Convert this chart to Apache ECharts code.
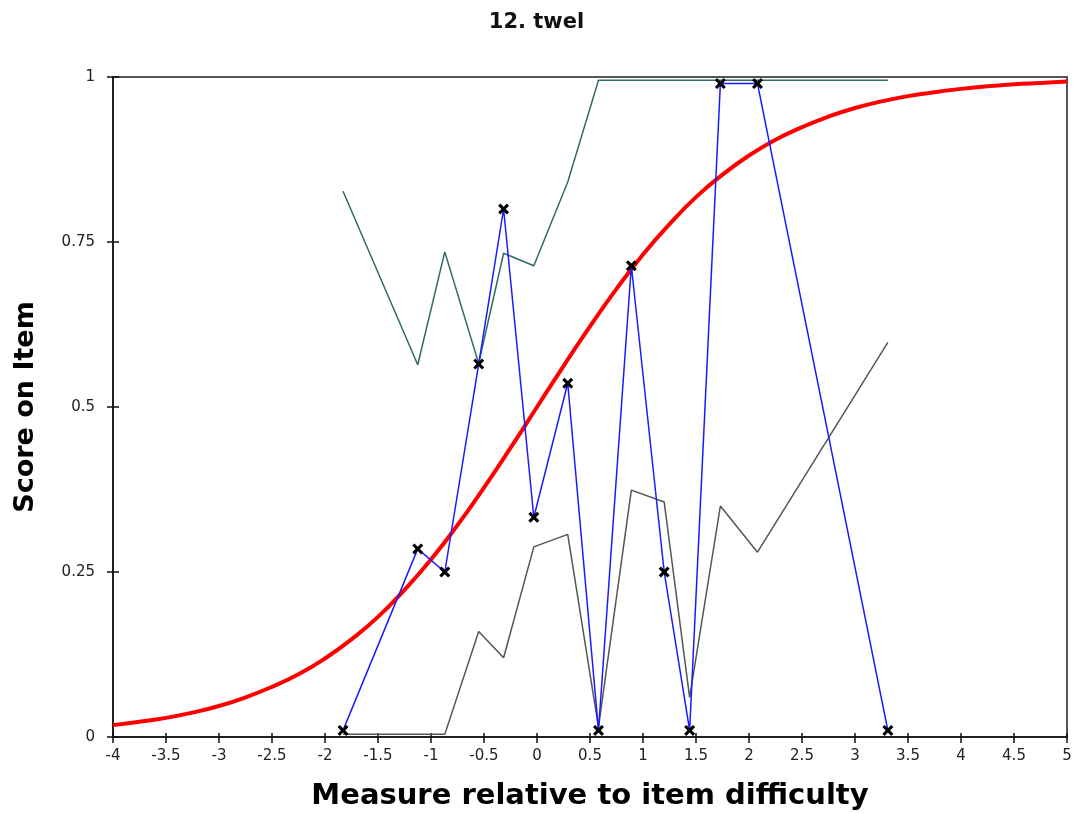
<!DOCTYPE html>
<html>
<head>
<meta charset="utf-8">
<script src="https://cdn.jsdelivr.net/npm/echarts@6/dist/echarts.min.js"></script>
<style>
html, body { margin: 0; padding: 0; background: #fff; }
#show { width: 1073px; height: 813px; }
</style>
</head>
<body>
<div id="show"></div>
<script>
// measures of the observed points (x)
var measure = [-1.83, -1.125, -0.87, -0.55, -0.315, -0.03, 0.29, 0.58, 0.89, 1.2, 1.44, 1.73, 2.08, 3.31];
// observed average score
var observed = [0.01, 0.285, 0.25, 0.565, 0.80, 0.333, 0.536, 0.01, 0.714, 0.25, 0.01, 0.99, 0.99, 0.01];
// upper and lower confidence lines
var upper = [0.827, 0.564, 0.735, 0.566, 0.733, 0.714, 0.841, 0.995, 0.995, 0.995, 0.995, 0.995, 0.995, 0.995];
var lower = [0.004, 0.004, 0.004, 0.16, 0.12, 0.288, 0.307, 0.015, 0.374, 0.356, 0.06, 0.35, 0.28, 0.598];

var curveX = [-4, -3.75, -3.5, -3.25, -3, -2.75, -2.5, -2.25, -2, -1.75, -1.5, -1.25, -1, -0.75, -0.5, -0.25,
	0, 0.25, 0.5, 0.75, 1, 1.25, 1.5, 1.75, 2, 2.25, 2.5, 2.75, 3, 3.25, 3.5, 3.75, 4, 4.25, 4.5, 4.75, 5];
var curveY = [0.018, 0.023, 0.029, 0.037, 0.047, 0.060, 0.076, 0.095, 0.119, 0.148, 0.182, 0.223, 0.269, 0.321, 0.378, 0.438,
	0.5, 0.562, 0.622, 0.679, 0.731, 0.777, 0.818, 0.852, 0.881, 0.905, 0.924, 0.940, 0.953, 0.963, 0.971, 0.977, 0.982, 0.986, 0.989, 0.991, 0.993];

function pairs(xs, ys) {
	var out = [];
	for (var i = 0; i < xs.length; i++) {
		out.push([xs[i], ys[i]]);
	}
	return out;
}

var myEchart = echarts.init(document.getElementById("show"));

var crossMark = 'path://M0,2L2,0L5,3L8,0L10,2L7,5L10,8L8,10L5,7L2,10L0,8L3,5Z';

var option = {
	animation: false,
	title: {
		text: '12. twel',
		left: 'center',
		top: 7,
		textStyle: {
			fontFamily: 'DejaVu Sans',
			fontWeight: 'bold',
			fontSize: 21,
			color: '#111'
		}
	},
	grid: {
		left: 113,
		right: 6,
		top: 77,
		bottom: 76,
		outerBoundsMode: 'none',
		containLabel: false,
		show: true,
		borderColor: '#555',
		borderWidth: 2
	},
	xAxis: [{
		type: 'value',
		min: -4,
		max: 5,
		interval: 0.5,
		name: 'Measure relative to item difficulty',
		nameLocation: 'middle',
		nameGap: 45,
		nameTextStyle: {
			fontFamily: 'DejaVu Sans',
			fontWeight: 'bold',
			fontSize: 29,
			color: '#000'
		},
		axisLine: { onZero: false, lineStyle: { color: '#111', width: 1.5 } },
		axisTick: { length: 6, lineStyle: { color: '#111', width: 1.5 } },
		axisLabel: {
			margin: 12,
			fontFamily: 'DejaVu Sans',
			fontSize: 15,
			color: '#222'
		},
		splitLine: { show: false }
	}, {
		type: 'value',
		position: 'bottom',
		min: -4,
		max: 5,
		interval: 0.5,
		axisLine: { show: false, onZero: false },
		axisTick: { inside: true, length: 4, lineStyle: { color: '#111', width: 1.5 } },
		axisLabel: { show: false },
		splitLine: { show: false }
	}],
	yAxis: [{
		type: 'value',
		min: 0,
		max: 1,
		interval: 0.25,
		name: 'Score on Item',
		nameLocation: 'middle',
		nameGap: 74,
		nameTextStyle: {
			fontFamily: 'DejaVu Sans',
			fontWeight: 'bold',
			fontSize: 27,
			color: '#000'
		},
		axisLine: { onZero: false, lineStyle: { color: '#111', width: 1.5 } },
		axisTick: { length: 6, lineStyle: { color: '#111', width: 1.5 } },
		axisLabel: {
			margin: 18,
			fontFamily: 'DejaVu Sans',
			fontSize: 15,
			color: '#222'
		},
		splitLine: { show: false }
	}, {
		type: 'value',
		position: 'left',
		min: 0,
		max: 1,
		interval: 0.25,
		axisLine: { show: false, onZero: false },
		axisTick: { inside: true, length: 6, lineStyle: { color: '#111', width: 1.5 } },
		axisLabel: { show: false },
		splitLine: { show: false }
	}],
	series: [{
		name: 'upper',
		type: 'line',
		data: pairs(measure, upper),
		symbol: 'none',
		lineStyle: { color: '#2e6b66', width: 1.5 },
		z: 2
	}, {
		name: 'lower',
		type: 'line',
		data: pairs(measure, lower),
		symbol: 'none',
		lineStyle: { color: '#555', width: 1.5 },
		z: 2
	}, {
		name: 'expected',
		type: 'line',
		data: pairs(curveX, curveY),
		smooth: true,
		symbol: 'none',
		lineStyle: { color: '#ff0000', width: 4 },
		z: 3
	}, {
		name: 'observed',
		type: 'line',
		data: pairs(measure, observed),
		symbol: crossMark,
		symbolSize: [11, 11],
		showAllSymbol: true,
		itemStyle: { color: '#000' },
		lineStyle: { color: '#1a1aff', width: 1.5 },
		z: 4
	}]
};

myEchart.setOption(option);
</script>
</body>
</html>
